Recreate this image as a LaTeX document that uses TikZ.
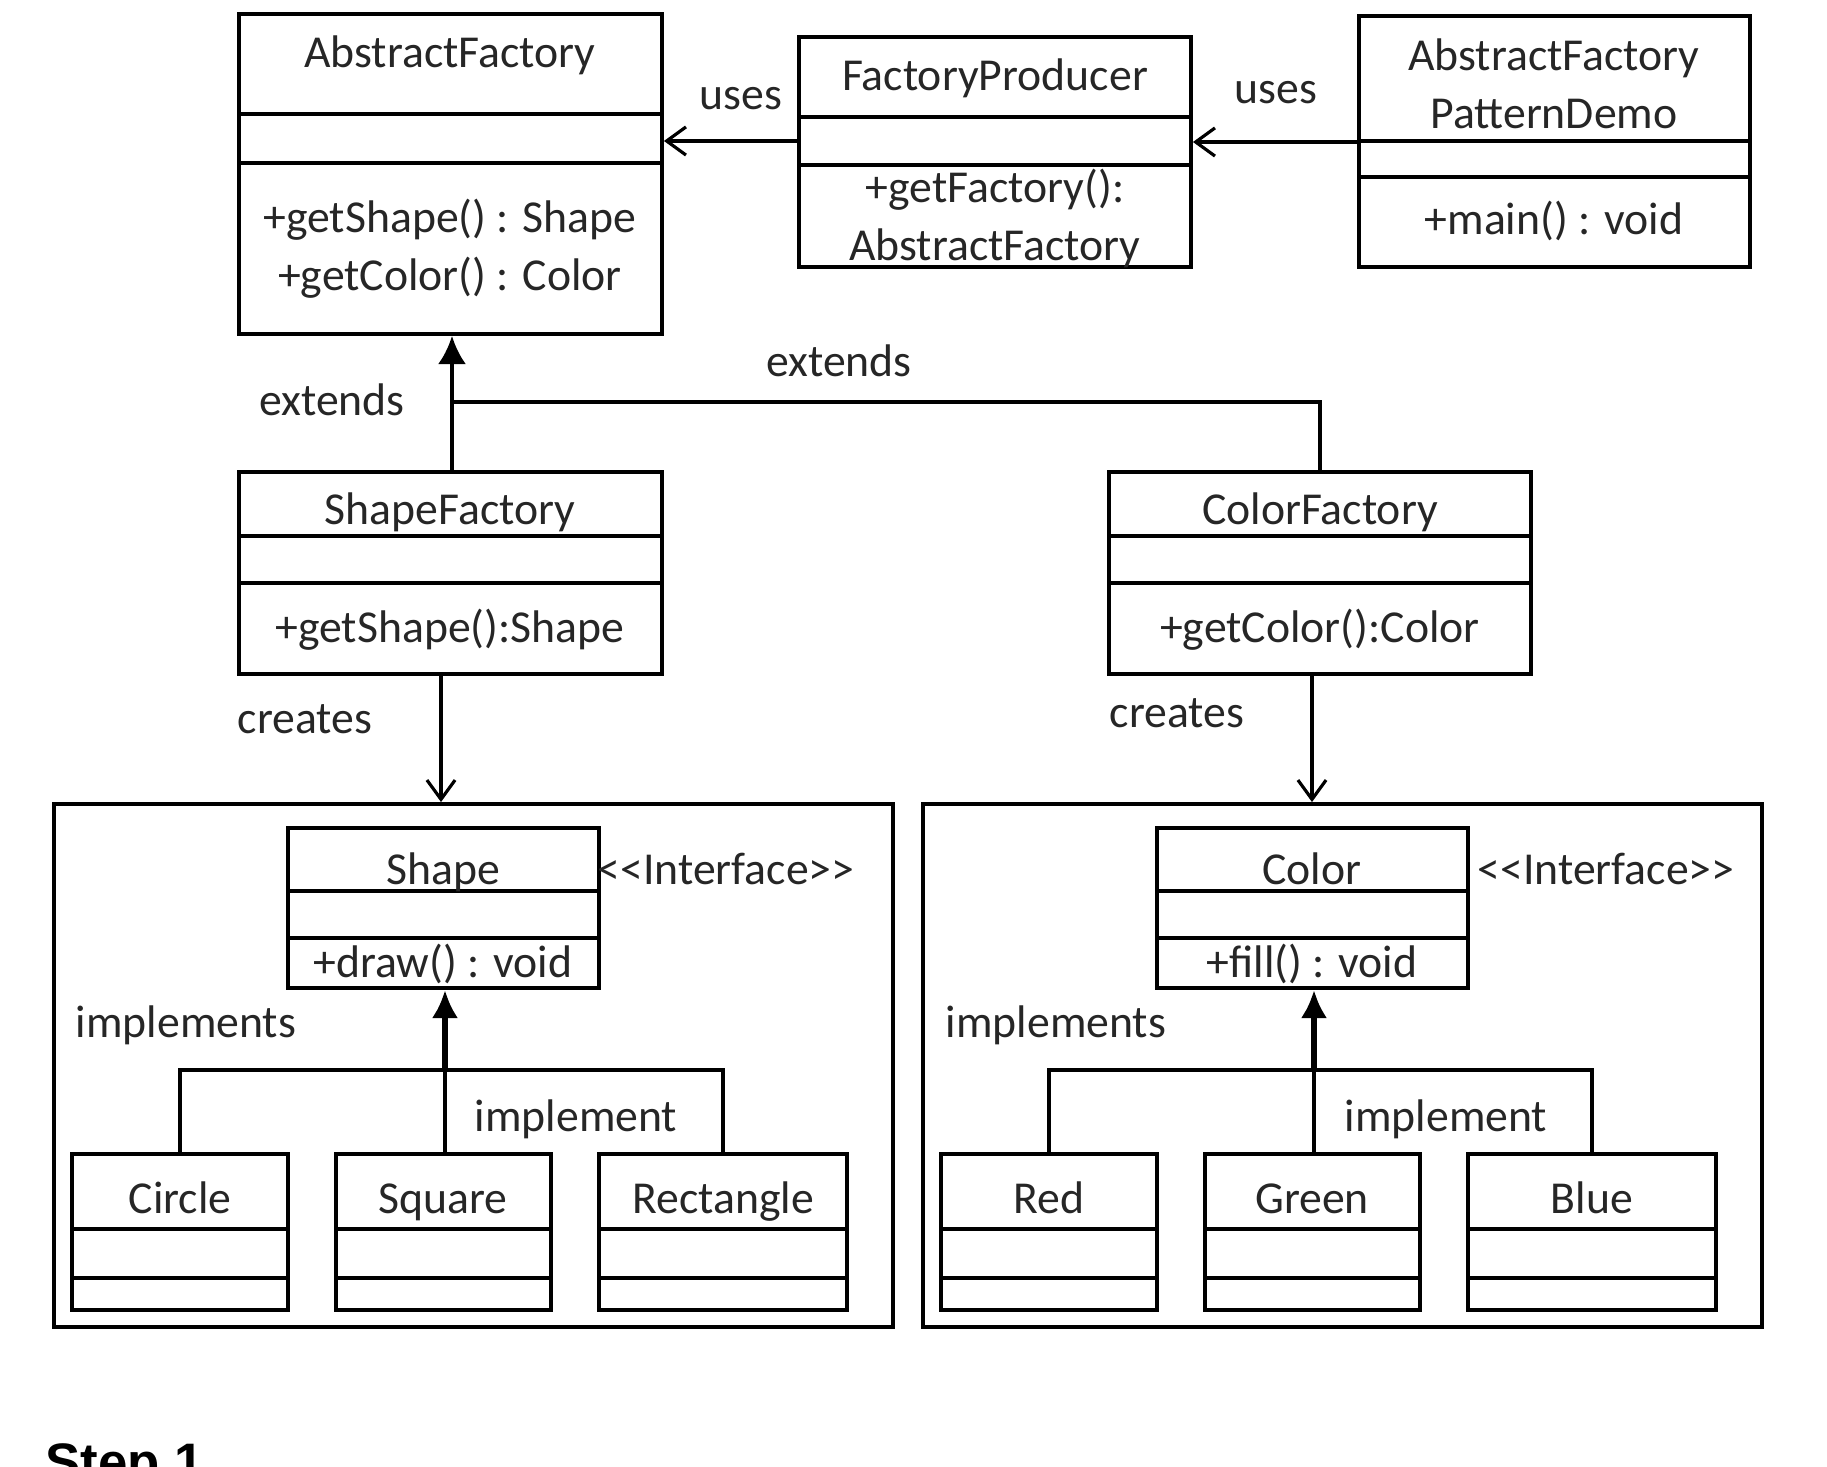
\documentclass[tikz,border=0pt]{standalone}
\usepackage{fontspec}
\setmainfont{Carlito}
\newfontfamily\stepfont{Liberation Sans}
\usetikzlibrary{
    arrows.meta,
    fit,
    calc}

\begin{document}
\begin{tikzpicture}[x=0.01cm,y=-0.01cm,
		cls/.style={draw,line width=1.1pt,inner sep=0pt},
		wire/.style={line width=1.1pt},
		lbl/.style={inner sep=0pt,text=black!85,align=center,font=\fontsize{13}{16.5}\selectfont},
		uses/.style={line width=0.9pt,-{Straight Barb[length=5.5pt,width=8pt]}},
		ext/.style={line width=1.2pt,-{Latex[length=8pt,width=8pt]}},
		impl/.style={line width=1.7pt,-{Latex[length=8pt,width=7.5pt]}}]
		\useasboundingbox (0,0) rectangle (1827,1467);
		
		\node[cls,fit={(54,804) (893,1327)}] (lpkg) {};
		\node[cls,fit={(923,804) (1762,1327)}] (rpkg) {};
		
		\foreach \n/\xa/\ya/\xb/\yb/\da/\db in {af/239/14/662/334/114/163, fp/799/37/1191/267/117/165,
			demo/1359/16/1750/267/141/177, sf/239/472/662/674/536/583, cf/1109/472/1531/674/536/583,
			shp/288/828/599/988/891/938, col/1157/828/1468/988/891/938,
			ci/72/1154/288/1310/1229/1278, sq/336/1154/551/1310/1229/1278, re/599/1154/847/1310/1229/1278,
			red/941/1154/1157/1310/1229/1278, grn/1205/1154/1420/1310/1229/1278, blu/1468/1154/1716/1310/1229/1278}{
			\node[cls,fit={(\xa,\ya) (\xb,\yb)}] (\n) {};
			\draw[wire] (\xa,\da) -- (\xb,\da) (\xa,\db) -- (\xb,\db);
		}
		
		\node[lbl] (afname) at (450,55) {AbstractFactory};
		\node[lbl] (afops) at (450,249) {+getShape() : Shape\\+getColor() : Color};
		\node[lbl] (fpname) at (995,78) {FactoryProducer};
		\node[lbl] (fpops) at (995,218) {+getFactory():\\AbstractFactory};
		\node[lbl] (demoname) at (1554,84) {AbstractFactory\\PatternDemo};
		\node[lbl] (demoops) at (1554,221) {+main() : void};
		\node[lbl] (sfname) at (450,512) {ShapeFactory};
		\node[lbl] (sfops) at (450,630) {+getShape():Shape};
		\node[lbl] (cfname) at (1320,512) {ColorFactory};
		\node[lbl] (cfops) at (1320,630) {+getColor():Color};
		\node[lbl,anchor=base] (shpname) at (443,884) {Shape};
		\node[lbl] (shpops) at (443,964) {+draw() : void};
		\node[lbl,anchor=base] (colname) at (1312,884) {Color};
		\node[lbl] (colops) at (1312,964) {+fill() : void};
		\node[lbl,anchor=west] (shpstereo) at (597,869) {<\kern0pt<Interface>\kern0pt>};
		\node[lbl,anchor=west] (colstereo) at (1477,869) {<\kern0pt<Interface>\kern0pt>};
		
		\foreach \n/\x/\t in {ci/180/Circle, sq/443/Square, re/723/Rectangle,
			red/1049/Red, grn/1312/Green, blu/1592/Blue}{
			\node[lbl,anchor=base] (\n name) at (\x,1213) {\t};
		}
		
		\foreach \n/\x/\y/\t in {uses1/741/99/uses, uses2/1276/93/uses, ext1/332/400/extends, ext2/839/361/extends,
			cre1/305/719/creates, cre2/1177/713/creates, imp1/186/1025/implements, imp2/576/1119/implement,
			imp3/1056/1025/implements, imp4/1446/1119/implement}{
			\node[lbl] (\n) at (\x,\y) {\t};
		}
		
		\draw[uses] (fp.west |- 0,141) -- (af.east |- 0,141);
		\draw[uses] (demo.west |- 0,142) -- (fp.east |- 0,142);
		
		\coordinate (ej) at (452,402);
		\draw[ext] (sf.north -| ej) -- (af.south -| ej);
		\draw[wire] (cf.north) |- (ej);
		
		\draw[uses] (sf.south -| 441,0) -- (lpkg.north -| 441,0);
		\draw[uses] (cf.south -| 1312,0) -- (rpkg.north -| 1312,0);
		
		\coordinate (lj) at (445,1070);
		\coordinate (rj) at (1314,1070);
		\draw[impl] (lj) -- (shp.south -| lj);
		\draw[impl] (rj) -- (col.south -| rj);
		\foreach \a/\b/\c/\j in {ci/sq/re/lj, red/grn/blu/rj}{
			\draw[wire] (\a.north) |- (\j) -| (\c.north);
			\draw[wire] (\b.north -| \j) -- (\j);
		}
		
		\node[anchor=base west,inner sep=0pt,font=\stepfont\bfseries\fontsize{15}{18}\selectfont] (step) at (45,1480) {Step 1};
	\end{tikzpicture}
\end{document}
